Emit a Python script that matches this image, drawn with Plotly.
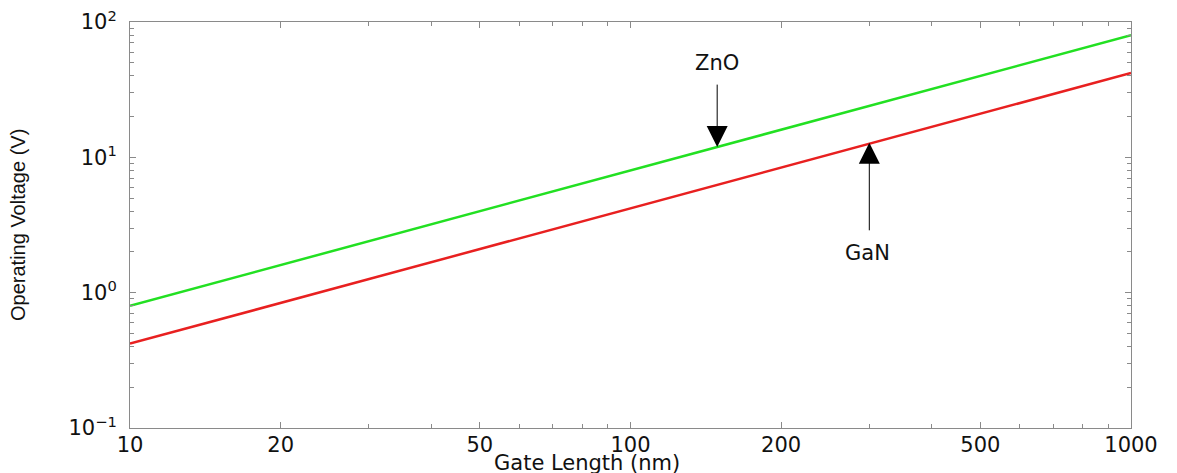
import plotly.graph_objects as go
import numpy as np

# Data (log-log straight lines)
gate_length_nm = [10, 1000]
zno_voltage = [0.80, 80.0]
gan_voltage = [0.42, 42.0]

x_tickvals = [10, 20, 50, 100, 200, 500, 1000]
x_ticktext = ["10", "20", "50", "100", "200", "500", "1000"]
y_tickvals = [0.1, 1, 10, 100]
y_ticktext = ["10<sup>−1</sup>", "10<sup>0</sup>", "10<sup>1</sup>", "10<sup>2</sup>"]

FONT = "DejaVu Sans"
AXC = "#8a8a8a"

fig = go.Figure()
fig.add_trace(go.Scatter(x=gate_length_nm, y=zno_voltage, mode="lines",
                         line=dict(color="#22e022", width=2.5), name="ZnO"))
fig.add_trace(go.Scatter(x=gate_length_nm, y=gan_voltage, mode="lines",
                         line=dict(color="#e82020", width=2.5), name="GaN"))

fig.update_xaxes(type="log", range=[1, 3], tickmode="array", tickvals=x_tickvals,
                 ticktext=x_ticktext, ticks="inside", ticklen=6, tickcolor=AXC,
                 showline=True, linecolor=AXC, linewidth=1, mirror="ticks",
                 showgrid=False, zeroline=False, automargin=False, ticklabeloverflow="allow",
                 minor=dict(ticks="inside", ticklen=4, dtick="D1", tickcolor=AXC, showgrid=False),
                 tickfont=dict(family=FONT, size=21, color="#111"), ticklabelstandoff=-2)
fig.update_yaxes(type="log", range=[-1, 2], tickmode="array", tickvals=y_tickvals,
                 ticktext=y_ticktext, ticks="inside", ticklen=6, tickcolor=AXC,
                 showline=True, linecolor=AXC, linewidth=1, mirror="ticks",
                 showgrid=False, zeroline=False, automargin=False, ticklabeloverflow="allow",
                 minor=dict(ticks="inside", ticklen=4, dtick="D1", tickcolor=AXC, showgrid=False),
                 tickfont=dict(family=FONT, size=21, color="#111"), ticklabelstandoff=8)

annotations = [
    # ZnO arrow and label
    dict(x=np.log10(149), y=np.log10(11.9), xref="x", yref="y", ax=0, ay=-64,
         showarrow=True, arrowhead=2, arrowsize=4.2, arrowwidth=1, arrowcolor="#000", text=""),
    dict(x=np.log10(149), y=1.697, xref="x", yref="y", text="ZnO", showarrow=False,
         font=dict(family=FONT, size=21, color="#111")),
    # GaN arrow and label
    dict(x=np.log10(300), y=np.log10(12.8), xref="x", yref="y", ax=0, ay=89,
         showarrow=True, arrowhead=2, arrowsize=4.2, arrowwidth=1, arrowcolor="#000", text=""),
    dict(x=2.4745, y=0.293, xref="x", yref="y", text="GaN", showarrow=False,
         font=dict(family=FONT, size=21, color="#111")),
    # axis titles
    dict(x=0.4565, y=0, xref="paper", yref="paper", yshift=-35, yanchor="middle",
         text="Gate Length (nm)", showarrow=False, font=dict(family=FONT, size=21, color="#111")),
    dict(x=0, y=0.5, xref="paper", yref="paper", xshift=-112, xanchor="center", yanchor="middle",
         textangle=-90, text="Operating Voltage (V)", showarrow=False,
         font=dict(family="Liberation Sans", size=20, color="#111")),
]

# page body has an 8px margin: the figure is sized/offset to place the plot box like the reference
fig.update_layout(width=1169, height=465, margin=dict(l=122, r=46, t=14, b=45),
                  plot_bgcolor="white", paper_bgcolor="white", showlegend=False,
                  annotations=annotations)

fig.write_html("out.html")
